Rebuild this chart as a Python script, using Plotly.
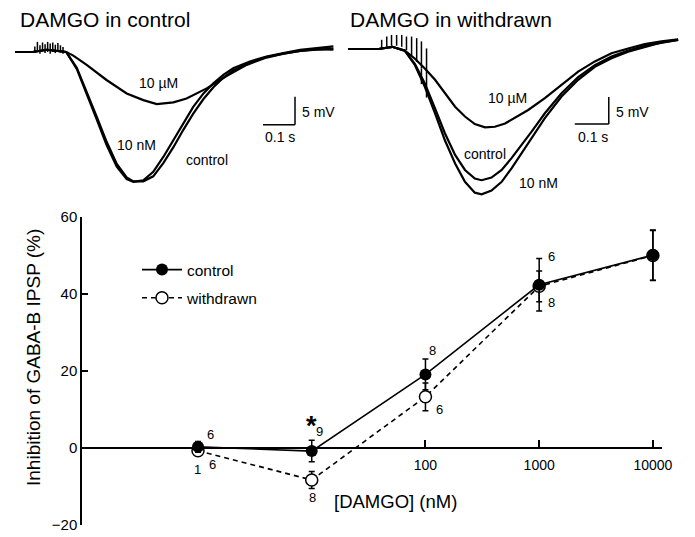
import math
import plotly.graph_objects as go

W, H = 695, 537
FONT = "Liberation Sans, Arial, Helvetica, sans-serif"

# ---------------- dose-response data ----------------
damgo_nM = [1, 10, 100, 1000, 10000]
control_mean = [0.3, -0.8, 19.1, 42.4, 50.1]
control_sem = [1.4, 2.8, 4.0, 6.8, 6.5]
withdrawn_mean = [-0.7, -8.3, 13.3, 42.0, 50.0]
withdrawn_sem = [1.0, 2.2, 3.6, 4.0, 6.5]
x_tick_vals = [100, 1000, 10000]
x_tick_text = ["100", "1000", "10000"]
y_tick_vals = [-20, 0, 20, 40, 60]

# number of cells (n) labels next to the points
n_text = ["6", "1", "6", "9", "8", "8", "6", "6", "8", "7", "7"]
n_dose = [1.30, 0.98, 1.35, 11.7, 10.2, 115, 132, 1290, 1290, 12900, 12900]
n_value = [3.4, -5.7, -4.4, 4.2, -12.8, 25.3, 9.9, 49.7, 37.8, 56.3, 45.3]

# ---------------- IPSP traces: DAMGO in control (ms, mV) ----------------
lc_t = [0, 55, 100, 160, 193, 224, 255, 286, 318, 349, 370, 401, 432, 464,
        495, 526, 557, 589, 620, 651, 682, 734, 786, 839, 891, 943, 995]
lc_10nM = [0, 0, 0.4, 0.0, -3.0, -7.4, -12.0, -16.6, -20.5, -22.7, -23.2,
           -22.9, -21.4, -18.7, -15.7, -12.7, -9.8, -7.4, -5.6, -4.1, -2.9,
           -1.7, -0.8, -0.2, 0.4, 0.7, 1.0]
lc_control = [0, 0, 0.4, 0.0, -2.8, -7.0, -11.5, -16.0, -20.0, -22.4, -23.1,
              -23.1, -22.2, -19.8, -17.0, -13.9, -11.0, -8.4, -6.3, -4.6,
              -3.3, -1.9, -0.9, -0.3, 0.2, 0.4, 0.6]
lc_t_10uM = [0, 55, 100, 160, 181, 224, 286, 349, 401, 443, 495, 536, 599,
             661, 724, 786, 839, 891, 943, 995]
lc_10uM = [0, 0, 0.4, 0.0, -0.6, -2.3, -5.0, -7.4, -8.6, -9.3, -9.0, -8.3,
           -6.5, -4.3, -2.3, -1.0, -0.3, 0.2, 0.5, 0.4]
lc_art_t = [62, 70, 78, 86, 94, 102, 110, 118, 126, 134, 142, 150]
lc_art_lo = [-0.2, 0.0, -0.3, 0.1, -0.2, 0.0, -0.3, 0.0, -0.2, 0.1, -0.1, -0.3]
lc_art_hi = [1.0, 1.8, 1.2, 1.7, 1.4, 1.8, 1.5, 1.7, 1.3, 1.6, 1.2, 0.9]

# ---------------- IPSP traces: DAMGO in withdrawn (ms, mV) ----------------
rw_t = [0, 90, 130, 167, 197, 226, 256, 285, 315, 344, 373, 393, 422, 452,
        481, 511, 540, 579, 628, 677, 726, 775, 824, 873, 922, 971]
rw_10nM = [0, 0, 0.4, -0.3, -3.0, -7.0, -11.9, -16.9, -21.2, -24.6, -26.6,
           -26.9, -26.2, -24.6, -22.1, -19.3, -16.5, -12.8, -8.8, -5.7, -3.3,
           -1.7, -0.5, 0.4, 1.2, 1.7]
rw_control = [0, 0, 0.4, -0.3, -2.8, -6.4, -11.0, -15.6, -19.6, -22.4, -24.0,
              -24.3, -23.8, -22.4, -20.2, -17.8, -15.3, -11.9, -8.2, -5.2,
              -3.0, -1.4, -0.3, 0.6, 1.2, 1.7]
rw_t_10uM = [0, 90, 130, 167, 197, 226, 256, 285, 315, 344, 373, 403, 432,
             462, 491, 530, 579, 628, 677, 726, 775, 824, 873, 922, 971]
rw_10uM = [0, 0, 0.4, -0.3, -1.8, -3.6, -5.7, -8.2, -10.7, -12.5, -13.9,
           -14.5, -14.4, -13.8, -12.8, -11.3, -9.1, -6.7, -4.2, -2.3, -0.8,
           0.1, 0.9, 1.4, 1.8]
rw_art_t = [99, 114, 128, 143, 158, 172, 187, 202, 216, 231, 216, 231]
rw_art_lo = [0.1, 0.4, 0.6, 0.6, 0.4, -0.2, -1.4, -2.4, -3.6, -4.8, -6.5, -9.0]
rw_art_hi = [1.7, 2.3, 2.6, 2.6, 2.6, 2.3, 2.3, 2.0, 1.4, 0.1, -3.6, -4.8]

# scale bars (ms, mV)
bar_ms, bar_mV = 100, 5
left_bar_origin = (775, -13.0)
right_bar_origin = (667, -13.9)


def spikes(ts, lo, hi):
    xs, ys = [], []
    for t, a, b in zip(ts, lo, hi):
        xs += [t, t, None]
        ys += [a, b, None]
    return xs, ys


fig = go.Figure()

# --- traces panels ---
trace_style = dict(mode="lines", line=dict(color="black", width=2.2),
                   showlegend=False, hoverinfo="skip")
for t, v in [(lc_t, lc_10nM), (lc_t, lc_control), (lc_t_10uM, lc_10uM)]:
    fig.add_trace(go.Scatter(x=t, y=v, xaxis="x2", yaxis="y2", **trace_style))
sx, sy = spikes(lc_art_t, lc_art_lo, lc_art_hi)
fig.add_trace(go.Scatter(x=sx, y=sy, xaxis="x2", yaxis="y2", mode="lines",
                         line=dict(color="black", width=1.5),
                         showlegend=False, hoverinfo="skip"))
for t, v in [(rw_t, rw_10nM), (rw_t, rw_control), (rw_t_10uM, rw_10uM)]:
    fig.add_trace(go.Scatter(x=t, y=v, xaxis="x3", yaxis="y3", **trace_style))
sx, sy = spikes(rw_art_t, rw_art_lo, rw_art_hi)
fig.add_trace(go.Scatter(x=sx, y=sy, xaxis="x3", yaxis="y3", mode="lines",
                         line=dict(color="black", width=1.5),
                         showlegend=False, hoverinfo="skip"))

# --- dose-response ---
fig.add_trace(go.Scatter(
    x=damgo_nM, y=withdrawn_mean, name="withdrawn", mode="lines+markers",
    line=dict(color="black", width=1.6, dash="5px,4px"),
    marker=dict(symbol="circle", size=12, color="white",
                line=dict(color="black", width=1.5)),
    error_y=dict(type="data", array=withdrawn_sem, color="black",
                 thickness=1.5, width=3),
    legendgroup="b", legendrank=2))
fig.add_trace(go.Scatter(
    x=damgo_nM, y=control_mean, name="control", mode="lines+markers",
    line=dict(color="black", width=1.6),
    marker=dict(symbol="circle", size=12, color="black"),
    error_y=dict(type="data", array=control_sem, color="black",
                 thickness=1.5, width=3),
    legendgroup="a", legendrank=1))

ann = []
for txt, d, v in zip(n_text, n_dose, n_value):
    ann.append(dict(x=math.log10(d), y=v, xref="x", yref="y", text=txt,
                    showarrow=False, font=dict(size=13, color="black")))
ann.append(dict(x=1.0, y=5.8, xref="x", yref="y", text="<b>*</b>",
                showarrow=False, font=dict(size=27, color="black")))

# panel labels
lbl = dict(showarrow=False, font=dict(size=14, color="black"))
for txt, t, v in [("10 µM", 447, -5.5), ("10 nM", 381, -16.6),
                  ("control", 600, -19.3), ("5 mV", 947, -10.7),
                  ("0.1 s", 828, -15.2)]:
    ann.append(dict(x=t, y=v, xref="x2", yref="y2", text=txt, **lbl))
for txt, t, v in [("10 µM", 470, -9.1), ("control", 403, -19.4),
                  ("10 nM", 559, -24.8), ("5 mV", 838, -11.7),
                  ("0.1 s", 720, -16.3)]:
    ann.append(dict(x=t, y=v, xref="x3", yref="y3", text=txt, **lbl))

ann.append(dict(x=18 / W, y=1 - 20 / H, xref="paper", yref="paper",
                xanchor="left", yanchor="middle", text="DAMGO in control",
                showarrow=False, font=dict(size=21, color="black")))
ann.append(dict(x=348 / W, y=1 - 19 / H, xref="paper", yref="paper",
                xanchor="left", yanchor="middle", text="DAMGO in withdrawn",
                showarrow=False, font=dict(size=21, color="black")))
ann.append(dict(x=395 / W, y=1 - 501 / H, xref="paper", yref="paper",
                xanchor="center", yanchor="middle",
                text="[DAMGO] (nM)", showarrow=False,
                font=dict(size=18.5, color="black")))
ann.append(dict(x=33 / W, y=1 - 358 / H, xref="paper", yref="paper",
                xanchor="center", yanchor="middle",
                text="Inhibition of GABA-B IPSP (%)", textangle=-90,
                showarrow=False, font=dict(size=19, color="black")))

shapes = []
for (x0, y0), xr, yr in [(left_bar_origin, "x2", "y2"),
                         (right_bar_origin, "x3", "y3")]:
    shapes.append(dict(type="line", xref=xr, yref=yr, x0=x0, y0=y0,
                       x1=x0 + bar_ms, y1=y0, line=dict(color="black", width=1.5)))
    shapes.append(dict(type="line", xref=xr, yref=yr, x0=x0 + bar_ms, y0=y0,
                       x1=x0 + bar_ms, y1=y0 + bar_mV,
                       line=dict(color="black", width=1.5)))

fig.update_layout(
    width=W, height=H, margin=dict(l=0, r=0, t=0, b=0, autoexpand=False),
    paper_bgcolor="white", plot_bgcolor="white",
    font=dict(family=FONT, color="black"),
    showlegend=True,
    legend=dict(x=137 / W, y=1 - 253 / H, xanchor="left", yanchor="top",
                bgcolor="rgba(0,0,0,0)", font=dict(size=15.5),
                traceorder="grouped", tracegroupgap=5, itemwidth=40),
    xaxis=dict(type="log", range=[-1.02, 4.08], domain=[82 / W, 662 / W],
               anchor="free", position=1 - 448 / H, automargin=False,
               tickvals=x_tick_vals, ticktext=x_tick_text,
               ticks="inside", ticklen=7, tickwidth=1.5, tickcolor="black",
               showline=True, linecolor="black", linewidth=1.5,
               showgrid=False, zeroline=False, tickfont=dict(size=14),
               ticklabelstandoff=4),
    yaxis=dict(range=[-20, 60], domain=[1 - 525 / H, 1 - 217 / H],
               anchor="x", automargin=False, tickvals=y_tick_vals,
               ticks="inside", ticklen=6, tickwidth=1.5, tickcolor="black",
               showline=True, linecolor="black", linewidth=1.5,
               showgrid=False, zeroline=False, tickfont=dict(size=15)),
    xaxis2=dict(range=[0, 1000], domain=[15 / W, 335 / W], anchor="y2",
                visible=False, automargin=False),
    yaxis2=dict(range=[-25.54, 4.82], domain=[1 - 195 / H, 1 - 25 / H],
                anchor="x2", visible=False, automargin=False),
    xaxis3=dict(range=[0, 1000], domain=[348 / W, 688 / W], anchor="y3",
                visible=False, automargin=False),
    yaxis3=dict(range=[-27.96, 4.44], domain=[1 - 200 / H, 1 - 25 / H],
                anchor="x3", visible=False, automargin=False),
    annotations=ann, shapes=shapes,
)

# let the figure fill the window from its top-left corner
fig.write_html("out.html",
               config={"displayModeBar": False},
               post_script="document.body.style.margin='0';"
                           "document.body.style.overflow='hidden';")
